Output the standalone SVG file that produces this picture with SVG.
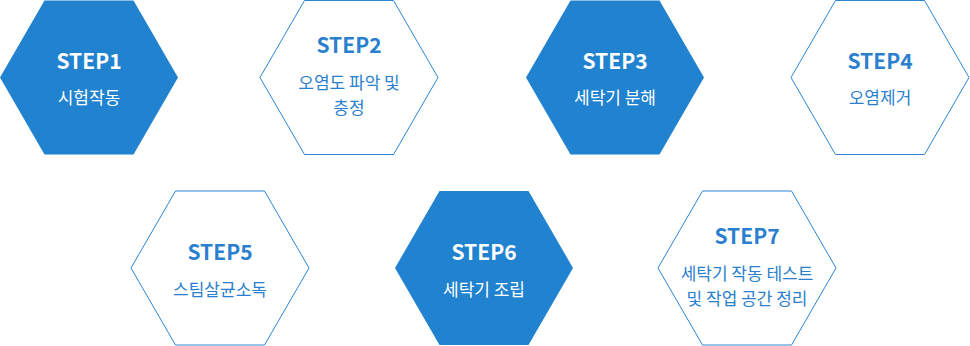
<svg xmlns="http://www.w3.org/2000/svg" width="970" height="346" viewBox="0 0 970 346">
<defs>
<polygon id="hex" points="-89,0 -44.5,-77 44.5,-77 89,0 44.5,77 -44.5,77"/>
</defs>
<style>
.fill{fill:#2182d0;stroke:none}
.line{fill:#ffffff;stroke:#2a86d4;stroke-width:1}
text{font-family:"Noto Sans CJK KR","Noto Sans",sans-serif;text-anchor:middle}
.step{font-size:21px;font-weight:bold}
.desc{font-size:17px}
.w{fill:#ffffff}
.b{fill:#2a80cf}
</style>
<rect width="970" height="346" fill="#ffffff"/>
<g id="connectors"></g>
<g id="step1" transform="translate(89,77.5)">
<use href="#hex" class="fill"/>
<text class="step w" y="-8.5">STEP1</text>
<text class="desc w" y="26.5">시험작동</text>
</g>
<g id="step2" transform="translate(349,77.5)">
<use href="#hex" class="line"/>
<text class="step b" y="-24.5">STEP2</text>
<text class="desc b" y="11.5">오염도 파악 및</text>
<text class="desc b" y="36.5">충정</text>
</g>
<g id="step3" transform="translate(615,77.5)">
<use href="#hex" class="fill"/>
<text class="step w" y="-8.5">STEP3</text>
<text class="desc w" y="26.5">세탁기 분해</text>
</g>
<g id="step4" transform="translate(880,77.5)">
<use href="#hex" class="line"/>
<text class="step b" y="-8.5">STEP4</text>
<text class="desc b" y="26.5">오염제거</text>
</g>
<g id="step5" transform="translate(220,268)">
<use href="#hex" class="line"/>
<text class="step b" y="-8">STEP5</text>
<text class="desc b" y="27.5">스팀살균소독</text>
</g>
<g id="step6" transform="translate(484,268)">
<use href="#hex" class="fill"/>
<text class="step w" y="-8">STEP6</text>
<text class="desc w" y="27.5">세탁기 조립</text>
</g>
<g id="step7" transform="translate(747,268)">
<use href="#hex" class="line"/>
<text class="step b" y="-24">STEP7</text>
<text class="desc b" y="12">세탁기 작동 테스트</text>
<text class="desc b" y="37">및 작업 공간 정리</text>
</g>
</svg>
